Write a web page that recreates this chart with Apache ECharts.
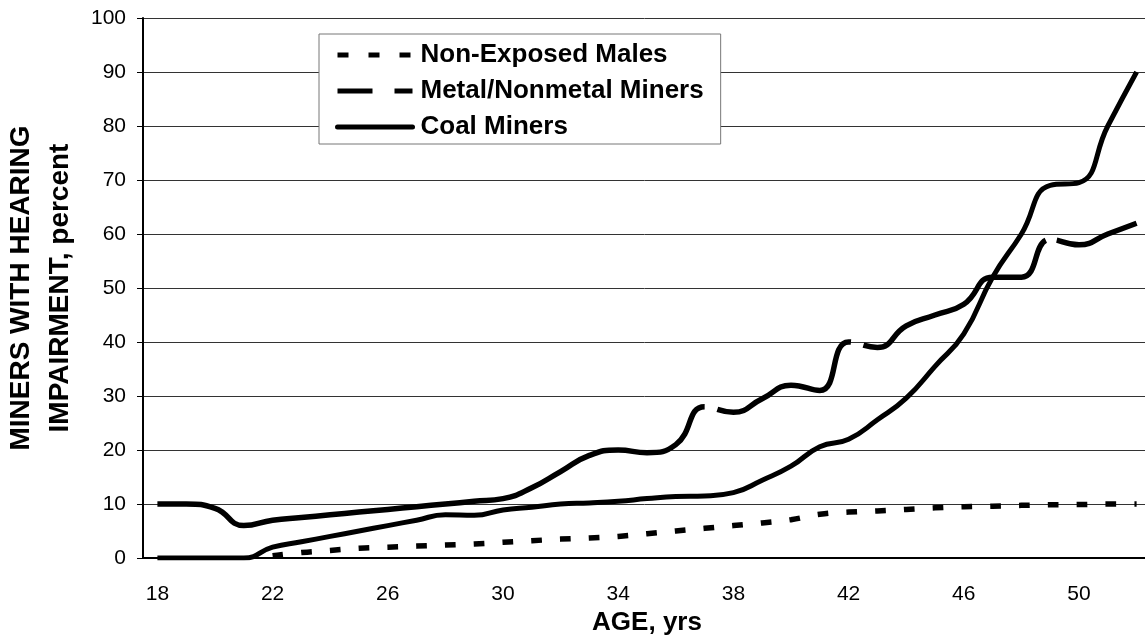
<!DOCTYPE html>
<html>
<head>
<meta charset="utf-8">
<script src="https://cdn.jsdelivr.net/npm/echarts@6/dist/echarts.min.js"></script>
<style>
  html, body { margin: 0; padding: 0; background: #fff; }
  #chart { width: 1145px; height: 640px; }
</style>
</head>
<body>
<div id="chart"></div>
<script>
// ages, one category per year
var ages = ['18', '19', '20', '21', '22', '23', '24', '25', '26', '27', '28', '29',
  '30', '31', '32', '33', '34', '35', '36', '37', '38', '39', '40', '41', '42',
  '43', '44', '45', '46', '47', '48', '49', '50', '51', '52'];

// percent with hearing impairment
var nonExposed = [null, null, null, null, 0.4, 1.0, 1.4, 1.8, 2.0, 2.2, 2.4, 2.6,
  2.9, 3.2, 3.5, 3.7, 4.0, 4.5, 5.0, 5.5, 6.0, 6.5, 7.1, 8.1, 8.5,
  8.7, 9.0, 9.3, 9.5, 9.6, 9.75, 9.85, 9.9, 10.0, 10.0];

var metalMiners = [10, 10, 9.2, 6, 7, 7.5, 8, 8.5, 9, 9.5, 10, 10.5,
  11, 13, 16, 19, 20, 19.5, 21, 28, 27, 29.5, 32, 31, 40,
  39, 43, 45, 47, 52, 52, 59, 58, 60, 62];

var coalMiners = [0, 0, 0, 0, 2, 3, 4, 5, 6, 7, 8, 7.9,
  8.9, 9.4, 10, 10.2, 10.5, 11, 11.4, 11.5, 12.1, 14.4, 17, 20.6, 22,
  25.6, 29.6, 35.5, 41.5, 52, 60, 69, 69.5, 80, 90];

var FONT = 'Liberation Sans';

var chart = echarts.init(document.getElementById('chart'));

var option = {
  animation: false,
  textStyle: { fontFamily: FONT, color: '#000' },
  // the original plot runs a little past the right edge of the picture
  grid: { left: 143, right: -6, top: 18, bottom: 82, containLabel: false, outerBoundsMode: 'none' },
  legend: {
    orient: 'vertical',
    left: 319,
    top: 34,
    padding: [6, 17, 2, 16],
    itemGap: 6,
    itemWidth: 75,
    itemHeight: 30,
    backgroundColor: '#fff',
    borderColor: '#777',
    borderWidth: 1,
    borderRadius: 0,
    itemStyle: { opacity: 0 },
    textStyle: { fontFamily: FONT, fontSize: 26, fontWeight: 'bold', color: '#000', lineHeight: 30, padding: [0, 0, 0, 3] },
    data: [
      { name: 'Non-Exposed Males', lineStyle: { type: [11, 20], width: 5, color: '#000', cap: 'butt' } },
      { name: 'Metal/Nonmetal Miners', lineStyle: { type: [35, 22], width: 5, color: '#000', cap: 'butt' } },
      { name: 'Coal Miners', lineStyle: { type: 'solid', width: 5, color: '#000', cap: 'round' } }
    ]
  },
  xAxis: {
    type: 'category',
    data: ages,
    boundaryGap: true,
    name: 'AGE, yrs',
    nameLocation: 'middle',
    nameGap: 50,
    nameTextStyle: { fontFamily: FONT, fontSize: 26, fontWeight: 'bold', color: '#000' },
    axisLine: { lineStyle: { color: '#000', width: 2 } },
    axisTick: { interval: 0, length: 6, lineStyle: { color: '#000', width: 1 } },
    axisLabel: { interval: 3, fontSize: 21, color: '#000', margin: 26, lineHeight: 21 },
    splitLine: { show: false }
  },
  yAxis: {
    type: 'value',
    min: 0,
    max: 100,
    interval: 10,
    name: 'MINERS WITH HEARING\nIMPAIRMENT, percent',
    nameLocation: 'middle',
    nameGap: 62,
    nameTextStyle: { fontFamily: FONT, fontSize: 28, fontWeight: 'bold', color: '#000', lineHeight: 39 },
    axisLine: { show: true, lineStyle: { color: '#000', width: 2 } },
    axisTick: { show: true, length: 6, lineStyle: { color: '#000', width: 1 } },
    axisLabel: { fontSize: 21, color: '#000', margin: 17 },
    splitLine: { lineStyle: { color: '#333', width: 1 } }
  },
  series: [
    {
      name: 'Non-Exposed Males',
      type: 'line',
      data: nonExposed,
      smooth: true,
      symbol: 'none',
      lineStyle: { color: '#000', width: 5.5, type: [10.5, 18.3], cap: 'butt' }
    },
    {
      name: 'Metal/Nonmetal Miners',
      type: 'line',
      data: metalMiners,
      smooth: true,
      symbol: 'none',
      // long dashes: only a few gaps land on the curve
      lineStyle: { color: '#000', width: 5.5, type: [590, 13, 174, 13, 230, 11, 400], cap: 'butt' }
    },
    {
      name: 'Coal Miners',
      type: 'line',
      data: coalMiners,
      smooth: true,
      symbol: 'none',
      lineStyle: { color: '#000', width: 5, type: 'solid', cap: 'butt' }
    }
  ]
};

chart.setOption(option);
</script>
</body>
</html>
